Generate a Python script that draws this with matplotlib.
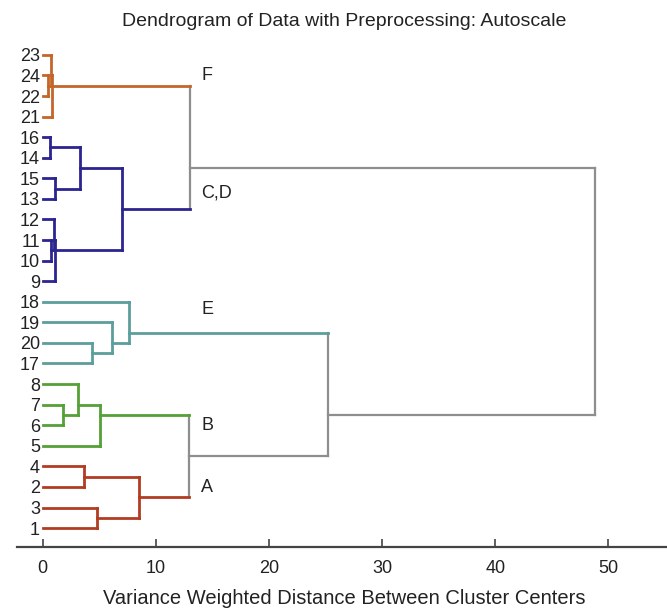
"""
Dendrogram of 24 samples (autoscaled data), drawn by hand from a linkage list.
"""
import numpy as np
import matplotlib
matplotlib.use("Agg")
import matplotlib.pyplot as plt

plt.rcParams["font.family"] = ["Liberation Sans", "DejaVu Sans"]

# ----- linkage: (node, lower child, upper child, merge distance) ---------- #
links = [
    ("A1", 2, 4, 3.6),
    ("A2", 1, 3, 4.75),
    ("A", "A2", "A1", 8.5),
    ("B1", 6, 7, 1.75),
    ("B2", "B1", 8, 3.15),
    ("B", 5, "B2", 5.1),
    ("E1", 17, 20, 4.35),
    ("E2", "E1", 19, 6.1),
    ("E", "E2", 18, 7.6),
    ("C1", 10, 11, 0.7),
    ("C2", "C1", 12, 0.95),
    ("C", 9, "C2", 1.1),
    ("D1", 13, 15, 1.1),
    ("D2", 14, 16, 0.6),
    ("D", "D1", "D2", 3.25),
    ("CD", "C", "D", 7.0),
    ("F1", 22, 24, 0.45),
    ("F2", "F1", 23, 0.75),
    ("F", 21, "F2", 0.8),
    ("AB", "A", "B", 12.9),
    ("ABE", "AB", "E", 25.2),
    ("CDF", "CD", "F", 13.0),
    ("root", "ABE", "CDF", 48.8),
]
root = "root"

# cluster colours (sub-nodes inherit), everything above is grey
cluster_colors = {
    "A": "#B23C22",
    "B": "#55A037",
    "E": "#5C9E9C",
    "CD": "#2C2490",
    "F": "#C4662A",
}
grey = "#8E8E8E"

# cluster labels: (text, node, vertical offset in leaf units)
cluster_labels = [
    ("F", "F", 0.48),
    ("C,D", "CD", 0.78),
    ("E", "E", 1.1),
    ("B", "AB", 1.5),
    ("A", "AB", -1.55),
]

title = "Dendrogram of Data with Preprocessing: Autoscale"
xlabel = "Variance Weighted Distance Between Cluster Centers"

# ----- layout ------------------------------------------------------------ #
tree = {name: (lo, hi, h) for name, lo, hi, h in links}


def leaves_of(n):
    if n not in tree:
        return [n]
    lo, hi, _ = tree[n]
    return leaves_of(lo) + leaves_of(hi)


order = leaves_of(root)                      # bottom to top
pos = {leaf: i + 1 for i, leaf in enumerate(order)}


def ypos(n):
    return np.mean([pos[l] for l in leaves_of(n)])


def height(n):
    return tree[n][2] if n in tree else 0.0


color = {}


def paint(n, c):
    color[n] = c
    if n in tree:
        paint(tree[n][0], c)
        paint(tree[n][1], c)


for name in tree:
    color.setdefault(name, grey)
for name, c in cluster_colors.items():
    paint(name, c)

# ----- draw -------------------------------------------------------------- #
fig = plt.figure(figsize=(6.67, 6.09), dpi=100)
ax = fig.add_axes([0.0255, 0.1018, 0.98, 0.8419])

for name, (lo, hi, h) in tree.items():
    lw_v = 1.6 if color[name] == grey else 2.0
    ax.plot([h, h], [ypos(lo), ypos(hi)], color=color[name], lw=lw_v,
            solid_capstyle="projecting")
    for ch in (lo, hi):
        lw_h = 1.6 if color[ch] == grey else 2.0
        ax.plot([height(ch), h], [ypos(ch), ypos(ch)], color=color[ch],
                lw=lw_h, solid_capstyle="projecting")

for text, node, dy in cluster_labels:
    ax.text(14.0, ypos(node) + dy, text, ha="left", va="center",
            fontsize=13, color="#222222")

ax.set_xlim(-2.28, 55.5)
ax.set_ylim(0.08, 25.0)
ax.set_xticks([0, 10, 20, 30, 40, 50])
ax.set_yticks(list(pos.values()))
ax.set_yticklabels([str(l) for l in order])

for s in ("left", "right", "top"):
    ax.spines[s].set_visible(False)
ax.spines["bottom"].set_color("#444444")
ax.spines["bottom"].set_linewidth(1.6)
ax.tick_params(axis="x", direction="in", length=6, width=1.2,
               color="#444444", labelsize=13, labelcolor="#222222", pad=9)
# labels sit just left of distance 0, not at the axes edge
ax.tick_params(axis="y", length=0, labelsize=13, labelcolor="#222222",
               pad=-16.5)

ax.set_title(title, fontsize=14, color="#222222", pad=6)
ax.set_xlabel(xlabel, fontsize=14.5, color="#222222", labelpad=9)

fig.savefig("out.png", dpi=100)
